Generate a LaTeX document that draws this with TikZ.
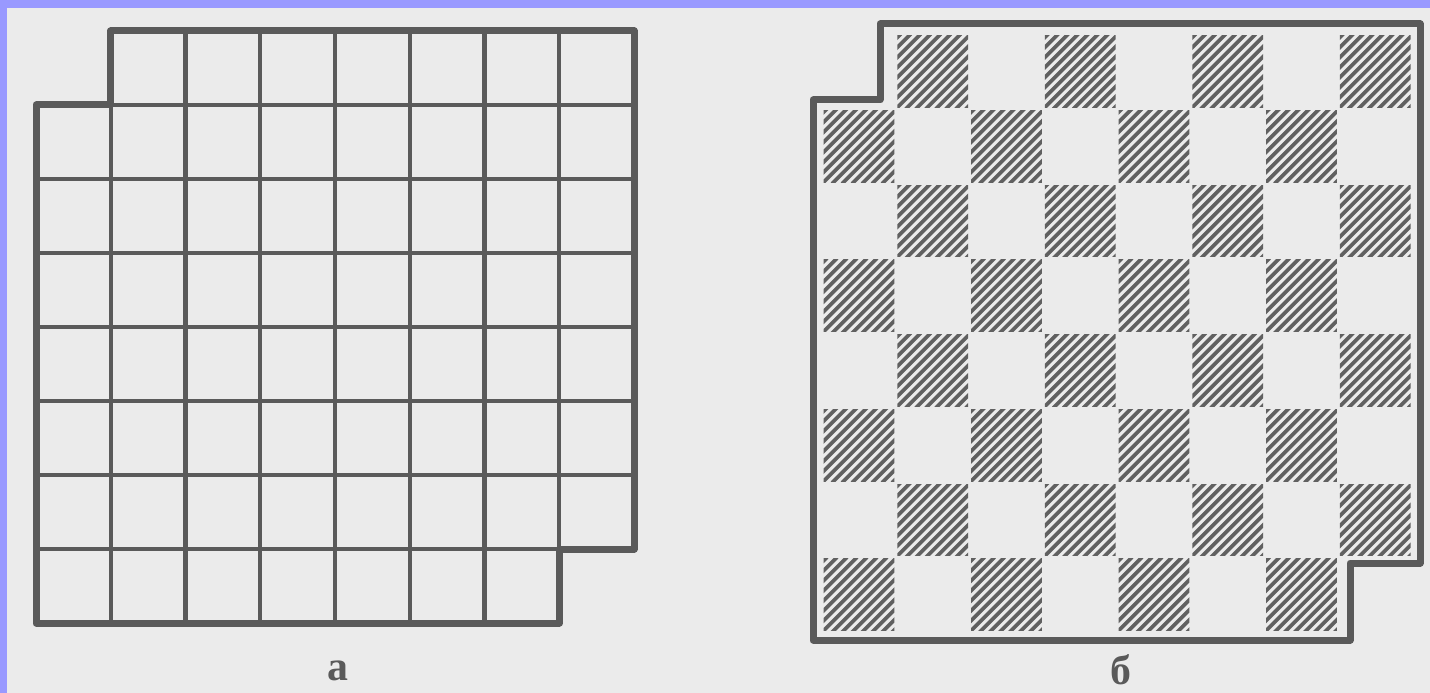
\documentclass[tikz,border=0pt]{standalone}
\usepackage{fontspec}
\setmainfont{Liberation Serif}
\definecolor{bg}{HTML}{EBEBEB}
\definecolor{ink}{HTML}{5A5A5A}
\definecolor{hatchink}{HTML}{606060}
\definecolor{frame}{HTML}{9999FF}
\tikzset{
  gridline/.style={ink, line width=4.2bp},
  outerline/.style={ink, line width=7bp, line join=round, line cap=round},
  hatchline/.style={hatchink, line width=3.6bp},
  caption/.style={ink, font=\fontsize{42}{42}\selectfont\bfseries, inner sep=0pt, anchor=base}
}
\begin{document}
\begin{tikzpicture}[x=1bp,y=-1bp]
\useasboundingbox (0,0) rectangle (1430,693);
\fill[bg] (0,0) rectangle (1430,693);
\fill[frame] (0,0) rectangle (1430,8);
\fill[frame] (0,0) rectangle (7,693);

% ---- board a ----
\foreach \k in {1,...,7} {
  \draw[gridline] ({36+\k*74.75},31) -- ({36+\k*74.75},623);
}
\foreach \j in {1,...,7} {
  \draw[gridline] (36,{31+\j*74}) -- (634,{31+\j*74});
}
\draw[outerline] (110.75,31) -- (634,31) -- (634,549) -- (559.25,549) -- (559.25,623)
  -- (36,623) -- (36,105) -- (110.75,105) -- cycle;

% ---- board b ----
\foreach \r in {1,...,8} {
  \foreach \c in {1,...,8} {
    \pgfmathtruncatemacro\odd{mod(\r+\c,2)}
    \ifnum\odd=1
      \pgfmathsetmacro\xo{822+(\c-1)*73.75}
      \pgfmathsetmacro\yo{34+(\r-1)*74.75}
      \begin{scope}
        \clip (\xo+1.5,\yo+1.5) rectangle (\xo+72.25,\yo+73.25);
        \foreach \t in {-80,-70,...,80} {
          \draw[hatchline] (\xo+\t,\yo+75) -- (\xo+\t+75,\yo);
        }
      \end{scope}
    \fi
  }
}
\draw[outerline] (880,24) -- (1420,24) -- (1420,563) -- (1350,563) -- (1350,640)
  -- (813,640) -- (813,100) -- (880,100) -- cycle;

% ---- captions ----
\node[caption] (labelA) at (338,680) {а};
\node[caption] (labelB) at (1121,684) {б};
\end{tikzpicture}
\end{document}
